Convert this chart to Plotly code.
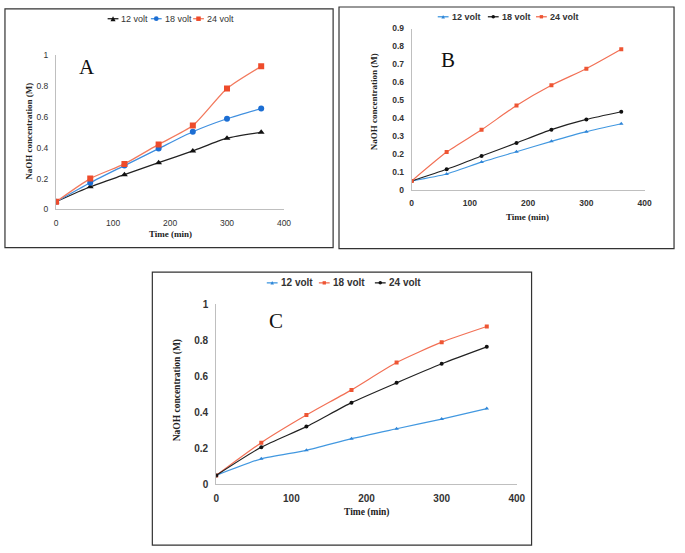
import plotly.graph_objects as go

time_min = [0, 60, 120, 180, 240, 300, 360]

# Panel A
a_12 = [0.05, 0.147, 0.225, 0.303, 0.379, 0.461, 0.499]
a_18 = [0.05, 0.173, 0.284, 0.394, 0.503, 0.587, 0.653]
a_24 = [0.05, 0.200, 0.295, 0.421, 0.543, 0.783, 0.926]

# Panel B
b_12 = [0.05, 0.089, 0.155, 0.213, 0.271, 0.325, 0.369]
b_18 = [0.05, 0.115, 0.189, 0.262, 0.336, 0.393, 0.436]
b_24 = [0.05, 0.211, 0.335, 0.471, 0.584, 0.676, 0.784]

# Panel C
c_12 = [0.05, 0.142, 0.189, 0.254, 0.309, 0.363, 0.421]
c_18 = [0.05, 0.232, 0.385, 0.525, 0.677, 0.790, 0.877]
c_24 = [0.05, 0.207, 0.321, 0.454, 0.564, 0.670, 0.764]

series_names = ["12 volt", "18 volt", "24 volt"]
x_ticks = [0, 100, 200, 300, 400]
W, H = 685, 553

BLACK = ("#222222", "#111111")
BLUE_A = ("#3F8FDF", "#1C6ED3")
RED_A = ("#F27A5E", "#EE4B2B")
BLUE = ("#4298E0", "#2F86D8")
RED = ("#F27055", "#EE5533")

def px(x):
    return x / W

def py(y):
    return 1 - y / H

fig = go.Figure()

def add(x, y, name, col, symbol, size, lw, xa, ya):
    fig.add_trace(go.Scatter(
        x=x, y=y, name=name, mode="lines+markers", showlegend=False,
        line=dict(color=col[0], width=lw, shape="spline", smoothing=0.6),
        marker=dict(color=col[1], symbol=symbol, size=size),
        xaxis=xa, yaxis=ya))

# A
add(time_min, a_12, series_names[0], BLACK, "triangle-up", 6, 1.3, "x", "y")
add(time_min, a_18, series_names[1], BLUE_A, "circle", 6, 1.3, "x", "y")
add(time_min, a_24, series_names[2], RED_A, "square", 6, 1.3, "x", "y")
# B
add(time_min, b_12, series_names[0], BLUE, "triangle-up", 4, 1.2, "x2", "y2")
add(time_min, b_18, series_names[1], BLACK, "circle", 4, 1.2, "x2", "y2")
add(time_min, b_24, series_names[2], RED, "square", 4, 1.2, "x2", "y2")
# C
add(time_min, c_12, series_names[0], BLUE, "triangle-up", 4, 1.2, "x3", "y3")
add(time_min, c_18, series_names[1], RED, "square", 4, 1.2, "x3", "y3")
add(time_min, c_24, series_names[2], BLACK, "circle", 4, 1.2, "x3", "y3")

SANS = "Liberation Sans, Arial"
tick_a = dict(family=SANS, size=8.5, color="#333333")
tick_b = dict(family=SANS, size=8.5, color="#333333", weight="bold")
tick_c = dict(family=SANS, size=10, color="#333333", weight="bold")

def xax(domain, anchor, font):
    return dict(domain=domain, anchor=anchor, range=[0, 400], tickvals=x_ticks,
                showgrid=False, zeroline=False, showline=True, linecolor="#BFBFBF",
                linewidth=1, ticks="outside", ticklen=5, tickcolor="rgba(0,0,0,0)",
                tickfont=font)

def yax(domain, anchor, rng, dtick, font):
    return dict(domain=domain, anchor=anchor, range=rng, dtick=dtick,
                showgrid=False, zeroline=False, showline=True, linecolor="#BFBFBF",
                linewidth=1, ticks="outside", ticklen=5, tickcolor="rgba(0,0,0,0)",
                tickfont=font)

fig.update_layout(
    width=W, height=H, margin=dict(l=0, r=0, t=0, b=0),
    paper_bgcolor="white", plot_bgcolor="white", showlegend=False,
    xaxis=xax([px(54), px(286)], "y", tick_a),
    yaxis=yax([py(208), py(50)], "x", [0, 1], 0.2, tick_a),
    xaxis2=xax([px(416), px(653)], "y2", tick_b),
    yaxis2=yax([py(188), py(23)], "x2", [0, 0.9], 0.1, tick_b),
    xaxis3=xax([px(217), px(523)], "y3", tick_c),
    yaxis3=yax([py(489), py(305)], "x3", [0, 1], 0.2, tick_c),
)

shapes = []
# Panel borders
for (x0, y0, x1, y1) in [(2, 3, 336, 247), (342, 1, 683, 248), (152, 272, 538, 551)]:
    shapes.append(dict(type="rect", xref="paper", yref="paper",
                       x0=px(x0), x1=px(x1), y0=py(y1), y1=py(y0),
                       line=dict(color="#333333", width=1.2), fillcolor="rgba(0,0,0,0)"))

ann = []
def A(text, x, y, font, angle=0, xanchor="center"):
    ann.append(dict(text=text, x=px(x), y=py(y), xref="paper", yref="paper",
                    showarrow=False, font=font, textangle=angle,
                    xanchor=xanchor, yanchor="middle"))

# Custom compact legend keys (short line + marker + label)
def legend_key(cx, cy, col, sym, s, label, font):
    shapes.append(dict(type="line", xref="paper", yref="paper",
                       x0=px(cx - 5.5), x1=px(cx + 5.5), y0=py(cy), y1=py(cy),
                       line=dict(color=col[0], width=1.3)))
    mk = dict(xref="paper", yref="paper", line=dict(width=0), fillcolor=col[1])
    if sym == "square":
        shapes.append(dict(type="rect", x0=px(cx - s), x1=px(cx + s),
                           y0=py(cy + s), y1=py(cy - s), **mk))
    elif sym == "circle":
        shapes.append(dict(type="circle", x0=px(cx - s), x1=px(cx + s),
                           y0=py(cy + s), y1=py(cy - s), **mk))
    else:
        path = "M %.5f %.5f L %.5f %.5f L %.5f %.5f Z" % (
            px(cx - s), py(cy + s), px(cx), py(cy - s), px(cx + s), py(cy + s))
        shapes.append(dict(type="path", path=path, **mk))
    A(label, cx + 6.5, cy, font, xanchor="left")

leg_a = dict(family=SANS, size=9, color="#333333")
leg_b = dict(family=SANS, size=9, color="#333333", weight="bold")
leg_c = dict(family=SANS, size=10, color="#333333", weight="bold")

legend_key(112, 13, BLACK, "triangle", 2.6, series_names[0], leg_a)
legend_key(156, 13, BLUE_A, "circle", 2.4, series_names[1], leg_a)
legend_key(199, 13, RED_A, "square", 2.3, series_names[2], leg_a)

legend_key(448, 11, BLUE, "triangle", 1.8, series_names[0], leg_b)
legend_key(499, 11, BLACK, "circle", 1.8, series_names[1], leg_b)
legend_key(548, 11, RED, "square", 1.7, series_names[2], leg_b)

legend_key(274, 283, BLUE, "triangle", 1.8, series_names[0], leg_c)
legend_key(327, 283, RED, "square", 1.7, series_names[1], leg_c)
legend_key(384, 283, BLACK, "circle", 1.8, series_names[2], leg_c)

fig.update_layout(shapes=shapes)

serif_b = dict(family="Liberation Serif, Times New Roman", size=9, color="#222222", weight="bold")
serif_c = dict(family="Liberation Serif, Times New Roman", size=9.5, color="#222222", weight="bold")
letter = dict(family="Liberation Serif, Times New Roman", size=21, color="#111111")

A("NaOH concentration (M)", 27, 128, serif_b, -90)
A("Time (min)", 170, 233, serif_b)
A("A", 85, 62, letter)
A("NaOH concentration (M)", 377, 98, serif_b, -90)
A("Time (min)", 534, 216, serif_b)
A("B", 453, 55, letter)
A("NaOH concentration (M)", 178, 393, serif_c, -90)
A("Time (min)", 370, 518, serif_c)
A("C", 278, 322, letter)
fig.update_layout(annotations=ann)

post = (
    "var d=document.documentElement,b=document.body;"
    "d.style.margin='0';d.style.padding='0';d.style.overflow='hidden';"
    "b.style.margin='0';b.style.padding='0';b.style.overflow='hidden';"
    "b.style.width='685px';b.style.height='553px';"
)
fig.write_html("out.html", config={"displayModeBar": False}, post_script=post)
